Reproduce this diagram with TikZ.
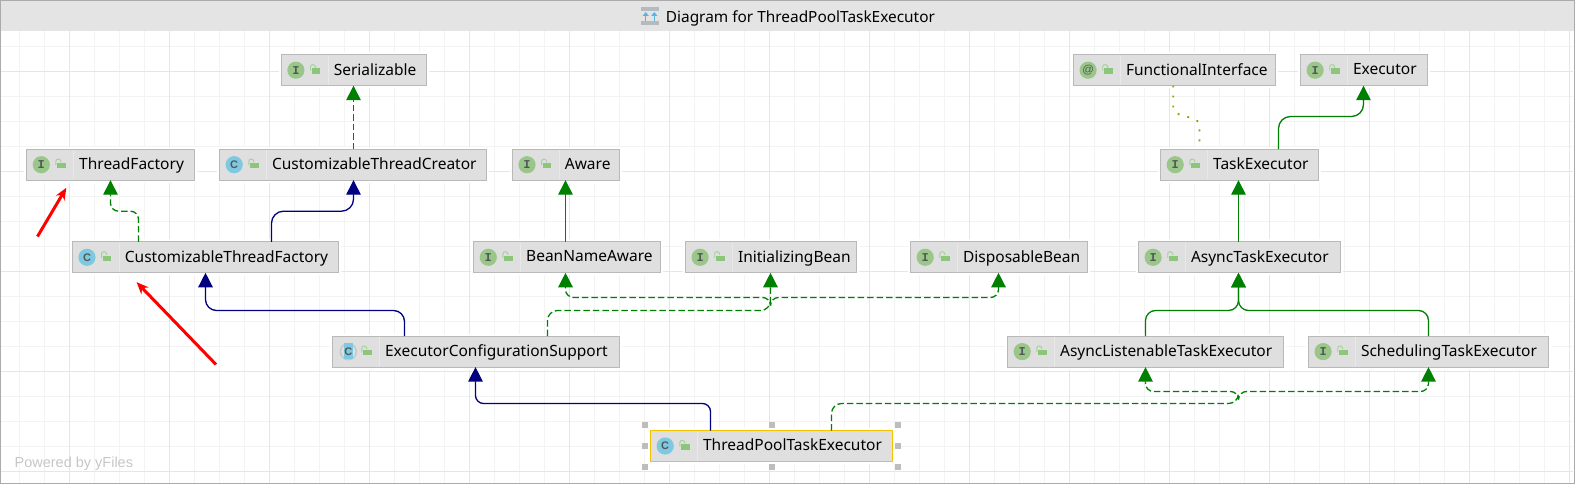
\documentclass[tikz,border=0pt]{standalone}
\usepackage{fontspec}
\setmainfont{Noto Sans}
\newfontfamily\yf{Liberation Sans}
\newfontfamily\ym{Liberation Mono}
\usetikzlibrary{arrows.meta}
\definecolor{gmin}{HTML}{F3F3F3}
\definecolor{gmaj}{HTML}{E6E6E6}
\definecolor{hdr}{HTML}{E4E4E4}
\definecolor{frm}{HTML}{ABABAB}
\definecolor{nfill}{HTML}{DFDFDF}
\definecolor{nline}{HTML}{B9B9B9}
\definecolor{ndiv}{HTML}{E9E9E9}
\definecolor{igreen}{HTML}{9AC68A}
\definecolor{iblue}{HTML}{7FC8E2}
\definecolor{iring}{HTML}{C6CAC6}
\definecolor{lockg}{HTML}{8CC67A}
\definecolor{iletter}{HTML}{4F5A55}
\definecolor{impl}{HTML}{008000}
\definecolor{ext}{HTML}{000080}
\definecolor{dots}{HTML}{9A9A00}
\definecolor{sel}{HTML}{F5C400}
\definecolor{hnd}{HTML}{BDBDBD}
\definecolor{tbar}{HTML}{B4BABE}
\definecolor{tarr}{HTML}{58B4E0}
\tikzset{
  x=1pt,y=-1pt,
  umlbox/.style={draw=nline,fill=nfill,line width=1pt,inner sep=0pt,font=\fontsize{15.5}{18}\selectfont,text=black},
  conn/.style={line width=1.3pt,rounded corners=10pt,-{Triangle[width=14.5pt,length=14.5pt]}},
  plain/.style={line width=1.3pt,rounded corners=10pt},
  implsolid/.style={draw=impl},
  impldash/.style={draw=impl,dash pattern=on 6.5pt off 3pt},
  extsolid/.style={draw=ext},
  note/.style={draw=red,line width=3pt,-{Stealth[length=12pt,width=10pt]}},
  handle/.style={fill=hnd,draw=none,minimum size=6pt,inner sep=0pt}
}
% id, left, right, top, kind, text
\newcommand{\umlnode}[6]{%
  \pgfmathsetmacro{\nw}{#3-#2}%
  \pgfmathsetmacro{\ncx}{(#3+#2)/2}%
  \pgfmathsetmacro{\ncy}{#4+15.5}%
  \fill[white] (#2-2.5,#4-2.5) rectangle (#3+2.5,#4+33.5);
  \node[umlbox,minimum width=\nw pt,minimum height=31pt,outer sep=0pt] (#1) at (\ncx,\ncy) {\makebox[\nw pt][l]{\hspace{52.6pt}\raisebox{-0.9pt}[\height][\depth]{\vphantom{Ayg}#6}}};
  \draw[ndiv,line width=0.8pt] (#2+47.2,#4+1) -- (#2+47.2,#4+30);
  \umlicon{#2}{#4}{#5}
  \fill[lockg] (#2+30.3,#4+13.8) rectangle (#2+39.1,#4+19.3);
  \draw[lockg!80!white,line width=0.9pt] (#2+29.3,#4+16) -- (#2+29.3,#4+12) .. controls (#2+29.3,#4+9) and (#2+34.5,#4+9) .. (#2+34.5,#4+13);
}
\newcommand{\umlicon}[3]{%
  \ifx#3c
    \fill[iblue] (#1+14.7,#2+15.5) circle[radius=8.6];
    \node[inner sep=0pt,text=iletter,font=\yf\bfseries\fontsize{11}{11}\selectfont] at (#1+14.7,#2+15.5) {C};
  \else\ifx#3a
    \fill[igreen] (#1+14.7,#2+15.5) circle[radius=8.6];
    \node[inner sep=0pt,text=iletter,font=\yf\fontsize{11.5}{11}\selectfont] at (#1+14.7,#2+15.5) {@};
  \else\ifx#3h
    \draw[iring,line width=1.6pt] (#1+15.8,#2+15.5) circle[radius=8];
    \fill[iblue] (#1+11.3,#2+6.6) rectangle (#1+20.7,#2+22.6);
    \node[inner sep=0pt,text=iletter,font=\yf\bfseries\fontsize{11}{11}\selectfont] at (#1+15.8,#2+15.5) {C};
  \else
    \fill[igreen] (#1+14.7,#2+15.5) circle[radius=8.6];
    \node[inner sep=0pt,text=iletter,font=\ym\bfseries\fontsize{12}{12}\selectfont] at (#1+14.7,#2+15.5) {I};
  \fi\fi\fi
}
\begin{document}
\begin{tikzpicture}
\useasboundingbox (0,0) rectangle (1575,484);
\fill[white] (0,0) rectangle (1575,484);
% grid
\foreach \k in {0,...,63}{
  \draw[gmin,line width=0.8pt] ({19.6+25*\k},31) -- ({19.6+25*\k},483);
}
\foreach \k in {0,...,17}{
  \draw[gmin,line width=0.8pt] (1,{46+25*\k}) -- (1573,{46+25*\k});
}
\foreach \k in {0,...,15}{
  \draw[gmaj,line width=0.9pt] ({69.6+100*\k},31) -- ({69.6+100*\k},483);
}
\foreach \k in {0,...,4}{
  \draw[gmaj,line width=0.9pt] (1,{71+100*\k}) -- (1573,{71+100*\k});
}
% header
\fill[hdr] (1,1) rectangle (1574,31.1);
\draw[frm,line width=1.3pt] (0.6,0.6) rectangle (1574.2,483.6);
\node[anchor=west,inner sep=0pt,font=\fontsize{15.4}{18}\selectfont,text=black] (title) at (665.7,18) {Diagram for ThreadPoolTaskExecutor};
\fill[tbar] (641,7) rectangle (658.7,11);
\fill[tbar] (641,21.3) rectangle (658.7,25);
\draw[tarr,line width=1.5pt,-{Triangle[length=4pt,width=6pt]}] (645.7,21.3) -- (645.7,12);
\draw[tarr,line width=1.5pt,-{Triangle[length=4pt,width=6pt]}] (654.3,21.3) -- (654.3,12);
\node[anchor=base west,inner sep=0pt,text=black!22,font=\yf\fontsize{14.5}{16}\selectfont] (yfiles) at (14.4,467.5) {Powered by yFiles};
% nodes
\umlnode{ser}{281.2}{426.9}{54.7}{i}{Serializable}
\umlnode{tf}{26.6}{194.4}{149.2}{i}{ThreadFactory}
\umlnode{ctc}{219.5}{486.7}{149.2}{c}{CustomizableThreadCreator}
\umlnode{aware}{512.3}{619}{149.2}{i}{Aware}
\umlnode{ctf}{72.3}{338.5}{241.8}{c}{CustomizableThreadFactory}
\umlnode{bna}{473.6}{660.6}{241.8}{i}{BeanNameAware}
\umlnode{ib}{685.4}{856.5}{241.8}{i}{InitializingBean}
\umlnode{db}{910.5}{1087.5}{241.8}{i}{DisposableBean}
\umlnode{ate}{1138.4}{1340.6}{241.8}{i}{AsyncTaskExecutor}
\umlnode{te}{1160.5}{1318.5}{149.2}{i}{TaskExecutor}
\umlnode{fi}{1073.4}{1275.7}{54.7}{a}{FunctionalInterface}
\umlnode{ex}{1300.4}{1427.7}{54.7}{i}{Executor}
\umlnode{ecs}{332.5}{619.7}{336.1}{h}{ExecutorConfigurationSupport}
\umlnode{alte}{1007.5}{1283.7}{336.1}{i}{AsyncListenableTaskExecutor}
\umlnode{ste}{1308.4}{1548.5}{336.1}{i}{SchedulingTaskExecutor}
\umlnode{tpte}{650.5}{892.5}{430.5}{c}{ThreadPoolTaskExecutor}
\draw[sel,line width=1.5pt] (tpte.north west) -- (tpte.north east) -- (tpte.south east) -- (tpte.south west) -- cycle;
\foreach \hx/\hy in {645.2/425.1,771.8/425.1,898/425.1,645.2/445.9,898/445.9,645.2/466.7,771.8/466.7,898/466.7}{
  \node[handle] at (\hx,\hy) {};
}
% connectors
\draw[conn,impldash] (353.5,0 |- ctc.north) -- (353.5,0 |- ser.south);
\draw[conn,impldash,rounded corners=8pt] (138.5,0 |- ctf.north) -- (138.5,211.2) -- (110.5,211.2) -- (110.5,0 |- tf.south);
\draw[conn,extsolid,rounded corners=12pt] (271.5,0 |- ctf.north) -- (271.5,211.2) -- (353.5,211.2) -- (353.5,0 |- ctc.south);
\draw[conn,implsolid] (565.5,0 |- bna.north) -- (565.5,0 |- aware.south);
\draw[conn,extsolid,rounded corners=11pt] (404.5,0 |- ecs.north) -- (404.5,310.5) -- (205.5,310.5) -- (205.5,0 |- ctf.south);
\draw[conn,impldash] (547.5,0 |- ecs.north) -- (547.5,310.5) -- (770.5,310.5) -- (770.5,0 |- ib.south);
\draw[conn,impldash,rounded corners=8pt] (770.5,302) -- (770.5,297.5) -- (565.5,297.5) -- (565.5,0 |- bna.south);
\draw[conn,impldash,rounded corners=8pt] (770.5,302) -- (770.5,297.5) -- (998.5,297.5) -- (998.5,0 |- db.south);
\draw[conn,extsolid,rounded corners=8pt] (710.5,0 |- tpte.north) -- (710.5,403.5) -- (475.5,403.5) -- (475.5,0 |- ecs.south);
\draw[plain,impldash] (831.5,0 |- tpte.north) -- (831.5,403.5) -- (1238.5,403.5) -- (1238.5,391.5);
\draw[conn,impldash,rounded corners=8pt] (1238.5,396.5) -- (1238.5,391.5) -- (1145.5,391.5) -- (1145.5,0 |- alte.south);
\draw[conn,impldash,rounded corners=8pt] (1238.5,396.5) -- (1238.5,391.5) -- (1428.5,391.5) -- (1428.5,0 |- ste.south);
\draw[conn,implsolid] (1145.5,0 |- alte.north) -- (1145.5,310.5) -- (1238.5,310.5) -- (1238.5,0 |- ate.south);
\draw[conn,implsolid] (1428.5,0 |- ste.north) -- (1428.5,310.5) -- (1238.5,310.5) -- (1238.5,0 |- ate.south);
\draw[conn,implsolid] (1238.5,0 |- ate.north) -- (1238.5,0 |- te.south);
\draw[conn,implsolid,rounded corners=12pt] (1278.5,0 |- te.north) -- (1278.5,116.5) -- (1363.5,116.5) -- (1363.5,0 |- ex.south);
\draw[dots,line width=1.8pt,dash pattern=on 1.8pt off 8.2pt,rounded corners=5pt] (1173.2,0 |- fi.south) -- (1173.2,112.5) -- (1199.4,120.5) -- (1199.4,0 |- te.north);
% red annotation arrows
\coordinate (r1a) at (37.5,236.5);
\coordinate (r1b) at (66.3,187.8);
\coordinate (r2a) at (216,364.5);
\coordinate (r2b) at (136.6,282.2);
\draw[note] (r1a) -- (r1b);
\draw[note] (r2a) -- (r2b);
\end{tikzpicture}
\end{document}
